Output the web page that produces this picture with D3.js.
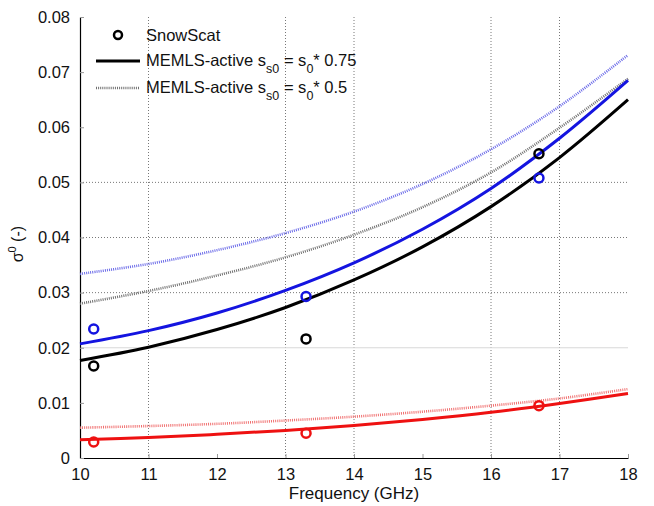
<!DOCTYPE html>
<html>
<head>
<meta charset="utf-8">
<script src="https://cdn.jsdelivr.net/npm/d3@7"></script>
<style>
  html, body { margin: 0; padding: 0; background: #fff; }
  svg { display: block; font-family: "Liberation Sans", Arial, sans-serif; }
</style>
</head>
<body>
<svg id="chart" width="654" height="506"></svg>
<script>
// Model frequencies (GHz) where the MEMLS-active curves are sampled
const modelFreq = [10, 11, 12, 13, 14, 15, 16, 17, 18];

// MEMLS-active, s_s0 = s_0 * 0.75 (solid)
const memls075Black = [0.0177, 0.0201, 0.0233, 0.0273, 0.0323, 0.0383, 0.0456, 0.0545, 0.0650];
const memls075Blue  = [0.0207, 0.0231, 0.0263, 0.0304, 0.0354, 0.0415, 0.0489, 0.0580, 0.0685];
const memls075Red   = [0.0033, 0.0037, 0.0043, 0.0050, 0.0059, 0.0070, 0.0083, 0.0099, 0.0117];

// MEMLS-active, s_s0 = s_0 * 0.5 (dotted)
const memls05Black = [0.0280, 0.0303, 0.0331, 0.0364, 0.0405, 0.0455, 0.0518, 0.0599, 0.0688];
const memls05Blue  = [0.0334, 0.0352, 0.0377, 0.0408, 0.0447, 0.0497, 0.0560, 0.0638, 0.0731];
const memls05Red   = [0.0055, 0.0058, 0.0062, 0.0068, 0.0075, 0.0084, 0.0095, 0.0108, 0.0125];

// SnowScat measurements
const obsFreq  = [10.2, 13.3, 16.7];
const obsBlack = [0.0167, 0.0216, 0.0552];
const obsBlue  = [0.0234, 0.0293, 0.0508];
const obsRed   = [0.0029, 0.0045, 0.0095];

// Axis ticks
const xTicks = [10, 11, 12, 13, 14, 15, 16, 17, 18];
const yTicks = [0, 0.01, 0.02, 0.03, 0.04, 0.05, 0.06, 0.07, 0.08];
const yTickLabels = ["0", "0.01", "0.02", "0.03", "0.04", "0.05", "0.06", "0.07", "0.08"];
// grid lines drawn in the plot
const xGrid = [11, 13, 14, 16, 17];
const yGridDotted = [0.03, 0.04, 0.05];
const yGridLight = [0.02];

const svg = d3.select("#chart");
const plot = { left: 80, right: 628, top: 17, bottom: 458 };

const x = d3.scaleLinear().domain([10, 18]).range([plot.left, plot.right]);
const y = d3.scaleLinear().domain([0, 0.08]).range([plot.bottom, plot.top]);

// grid
const grid = svg.append("g");
grid.selectAll("line.vg").data(xGrid).join("line")
  .attr("x1", d => x(d)).attr("x2", d => x(d))
  .attr("y1", plot.top).attr("y2", plot.bottom)
  .attr("stroke", "#555").attr("stroke-width", 0.8).attr("stroke-dasharray", "1 2");
grid.selectAll("line.hg").data(yGridDotted).join("line")
  .attr("x1", plot.left).attr("x2", plot.right)
  .attr("y1", d => y(d)).attr("y2", d => y(d))
  .attr("stroke", "#555").attr("stroke-width", 0.8).attr("stroke-dasharray", "1 2");
grid.selectAll("line.hl").data(yGridLight).join("line")
  .attr("x1", plot.left).attr("x2", plot.right)
  .attr("y1", d => y(d)).attr("y2", d => y(d))
  .attr("stroke", "#d8d8d8").attr("stroke-width", 1);

// axes
const xAxis = d3.axisBottom(x).tickValues(xTicks).tickFormat(d3.format("d"))
  .tickSizeInner(-4).tickSizeOuter(0).tickPadding(10);
const yAxis = d3.axisLeft(y).tickValues(yTicks).tickFormat((d, i) => yTickLabels[i])
  .tickSizeInner(-4).tickSizeOuter(0).tickPadding(10);

const gx = svg.append("g").attr("transform", `translate(0,${plot.bottom})`).call(xAxis);
const gy = svg.append("g").attr("transform", `translate(${plot.left},0)`).call(yAxis);
[gx, gy].forEach(g => {
  g.select(".domain").attr("stroke", "#000").attr("stroke-width", 1.2);
  g.selectAll(".tick line").attr("stroke", "#999").attr("stroke-width", 1);
  g.selectAll(".tick text").attr("fill", "#111").style("font-size", "16.5px")
    .style("font-family", "'Liberation Sans', Arial, sans-serif");
});

// axis titles
svg.append("text").attr("x", x(14)).attr("y", 499).attr("text-anchor", "middle")
  .style("font-size", "17px").attr("fill", "#111").text("Frequency (GHz)");

const yt = svg.append("text")
  .attr("transform", `translate(23,${y(0.0388)}) rotate(-90)`)
  .attr("text-anchor", "middle").style("font-size", "16px").attr("fill", "#111");
yt.append("tspan").text("σ");
yt.append("tspan").attr("dy", -7).style("font-size", "11px").text("0");
yt.append("tspan").attr("dy", 7).text(" (-)");

// curves
const line = d3.line().x(d => x(d[0])).y(d => y(d[1])).curve(d3.curveCatmullRom.alpha(0.5));
const zip = vals => modelFreq.map((f, i) => [f, vals[i]]);

const dotted = [
  { vals: memls05Red,   color: "#f07070" },
  { vals: memls05Black, color: "#707070" },
  { vals: memls05Blue,  color: "#6b6be8" }
];
const solid = [
  { vals: memls075Red,   color: "#ee1111" },
  { vals: memls075Black, color: "#000000" },
  { vals: memls075Blue,  color: "#1414e0" }
];

svg.append("g").selectAll("path").data(dotted).join("path")
  .attr("d", d => line(zip(d.vals)))
  .attr("fill", "none").attr("stroke", d => d.color)
  .attr("stroke-width", 2.6).attr("stroke-dasharray", "1 1.1");

svg.append("g").selectAll("path").data(solid).join("path")
  .attr("d", d => line(zip(d.vals)))
  .attr("fill", "none").attr("stroke", d => d.color)
  .attr("stroke-width", 3);

// SnowScat points
const obs = [
  { vals: obsRed,   color: "#ee1111" },
  { vals: obsBlack, color: "#000000" },
  { vals: obsBlue,  color: "#1414e0" }
];
obs.forEach(s => {
  svg.append("g").selectAll("circle").data(obsFreq.map((f, i) => [f, s.vals[i]])).join("circle")
    .attr("cx", d => x(d[0])).attr("cy", d => y(d[1])).attr("r", 4.5)
    .attr("fill", "none").attr("stroke", s.color).attr("stroke-width", 2.5);
});

// legend
const lg = svg.append("g").style("font-size", "16.5px").attr("fill", "#111");
lg.append("circle").attr("cx", 118).attr("cy", 35).attr("r", 4)
  .attr("fill", "none").attr("stroke", "#000").attr("stroke-width", 2.5);
lg.append("text").attr("x", 146).attr("y", 41).text("SnowScat");

lg.append("line").attr("x1", 96).attr("x2", 140).attr("y1", 61).attr("y2", 61)
  .attr("stroke", "#000").attr("stroke-width", 3);
lg.append("line").attr("x1", 96).attr("x2", 140).attr("y1", 88).attr("y2", 88)
  .attr("stroke", "#707070").attr("stroke-width", 2.6).attr("stroke-dasharray", "1 1.1");

function legendEntry(yBase, factor) {
  const t = lg.append("text").attr("x", 146).attr("y", yBase);
  t.append("tspan").text("MEMLS-active s");
  t.append("tspan").attr("dy", 7).style("font-size", "12.5px").text("s0");
  t.append("tspan").attr("dy", -7).text(" = s");
  t.append("tspan").attr("dy", 7).style("font-size", "12.5px").text("0");
  t.append("tspan").attr("dy", -7).text("* " + factor);
}
legendEntry(66, "0.75");
legendEntry(93, "0.5");
</script>
</body>
</html>
